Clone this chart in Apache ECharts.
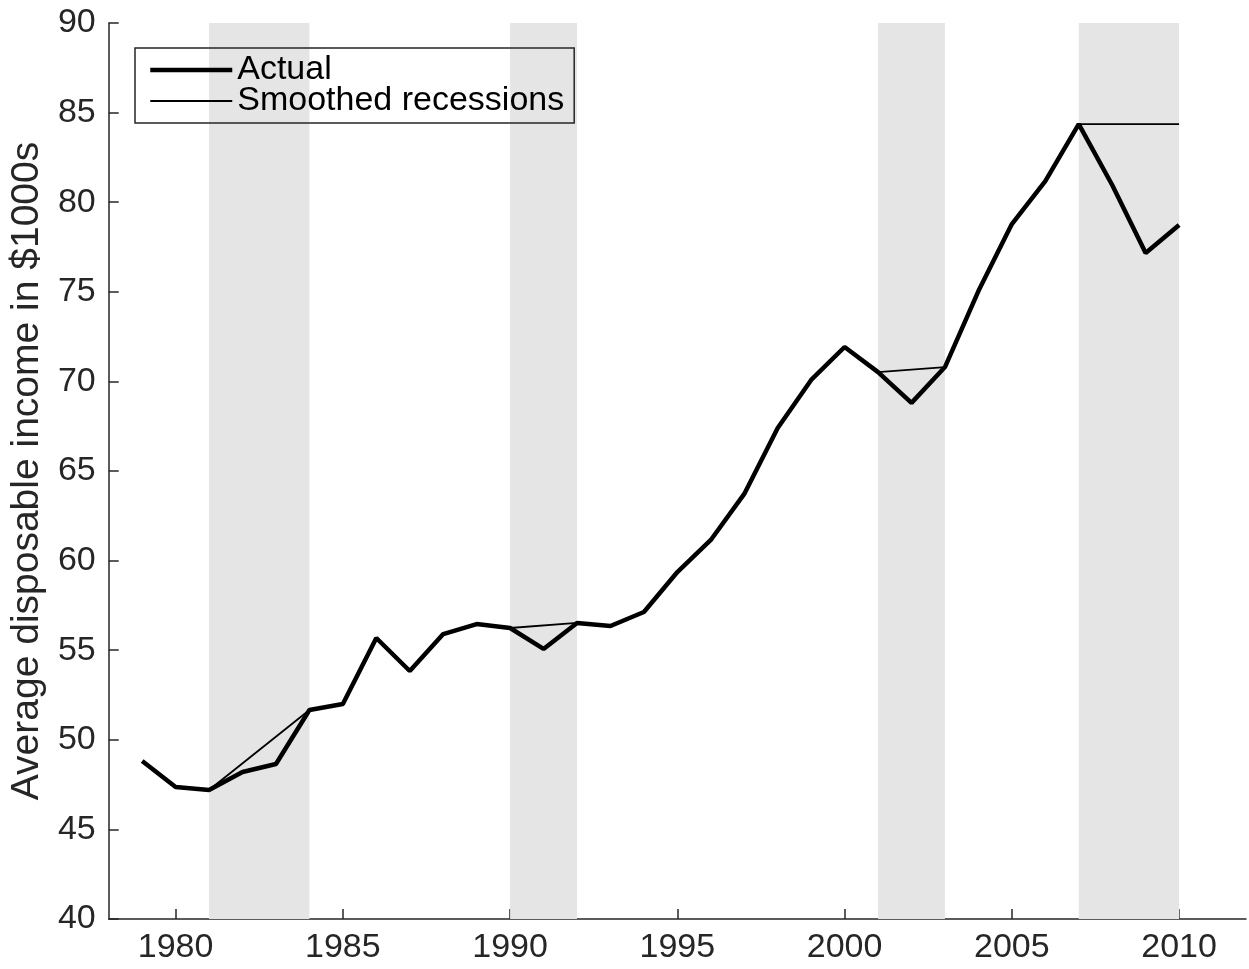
<!DOCTYPE html>
<html>
<head>
<meta charset="utf-8">
<script src="https://cdn.jsdelivr.net/npm/echarts@6/dist/echarts.min.js"></script>
<style>html,body{margin:0;padding:0;background:#fff;}#c{width:1249px;height:969px;}</style>
</head>
<body>
<div id="c"></div>
<script>
const years = [1979,1980,1981,1982,1983,1984,1985,1986,1987,1988,1989,1990,1991,1992,1993,1994,1995,1996,1997,1998,1999,2000,2001,2002,2003,2004,2005,2006,2007,2008,2009,2010];
const actual = [48.82,47.37,47.2,48.2,48.65,51.66,52.0,55.68,53.84,55.9,56.46,56.24,55.07,56.52,56.35,57.13,59.36,61.15,63.72,67.4,70.08,71.92,70.52,68.8,70.8,75.04,78.78,81.18,84.36,80.96,77.17,78.73];
const smoothedYears = [1981,1984,null,1990,1992,null,2001,2003,null,2007,2010];
const smoothedValues = [47.2,51.66,null,56.24,56.52,null,70.52,70.8,null,84.36,84.36];
const recessions = [[1981,1984],[1990,1992],[2001,2003],[2007,2010]];
const xTicks = [1980,1985,1990,1995,2000,2005,2010];
const seriesNames = ['Actual','Smoothed recessions'];
const yName = 'Average disposable income in $1000s';

const chart = echarts.init(document.getElementById('c'), null, {renderer:'canvas'});
const txt = '#262626';
const font = 'Liberation Sans, Arial, sans-serif';
chart.setOption({
  animation:false,
  backgroundColor:'#fff',
  textStyle:{fontFamily:font},
  grid:{left:108,right:3,top:23,bottom:50},
  legend:{
    left:135, top:48, orient:'vertical',
    data:[
      {name:seriesNames[0], lineStyle:{width:4.5,color:'#000'}, itemStyle:{opacity:0}},
      {name:seriesNames[1], lineStyle:{width:2,color:'#000'}, itemStyle:{opacity:0}}
    ],
    borderColor:txt, borderWidth:1.5, padding:[5,10,5,13],
    itemWidth:82, itemHeight:14, itemGap:-3,
    textStyle:{fontSize:34,color:'#000',fontFamily:font},
    selectedMode:false
  },
  xAxis:{
    type:'value', min:1978, max:2012,
    splitLine:{show:false},
    axisLine:{lineStyle:{color:txt,width:1.5}},
    axisTick:{inside:true,length:10,customValues:xTicks,lineStyle:{color:txt,width:1.5}},
    axisLabel:{customValues:xTicks,fontSize:34,color:txt,margin:12,fontFamily:font,
      formatter:v=>String(v)}
  },
  yAxis:{
    type:'value', min:40, max:90, interval:5,
    name:yName, nameLocation:'middle', nameGap:60, nameRotate:90,
    nameTextStyle:{fontSize:39,color:txt,fontFamily:font},
    splitLine:{show:false},
    axisLine:{show:true,lineStyle:{color:txt,width:1.5}},
    axisTick:{inside:true,length:10,lineStyle:{color:txt,width:1.5}},
    axisLabel:{fontSize:34,color:txt,margin:13,fontFamily:font}
  },
  series:[
    {
      name:'shade', type:'line', data:[], silent:true,
      markArea:{silent:true,itemStyle:{color:'#e5e5e5'},
        data:recessions.map(r=>[{xAxis:r[0]},{xAxis:r[1]}])}
    },
    {
      name:seriesNames[0], type:'line', symbol:'none',
      data:years.map((y,i)=>[y,actual[i]]),
      lineStyle:{color:'#000',width:4.5}, itemStyle:{color:'#000'}, z:3
    },
    {
      name:seriesNames[1], type:'line', symbol:'none', connectNulls:false,
      data:smoothedYears.map((y,i)=> y===null ? '-' : [y,smoothedValues[i]]),
      lineStyle:{color:'#000',width:1.8}, itemStyle:{color:'#000'}, z:4
    }
  ]
});
</script>
</body>
</html>
